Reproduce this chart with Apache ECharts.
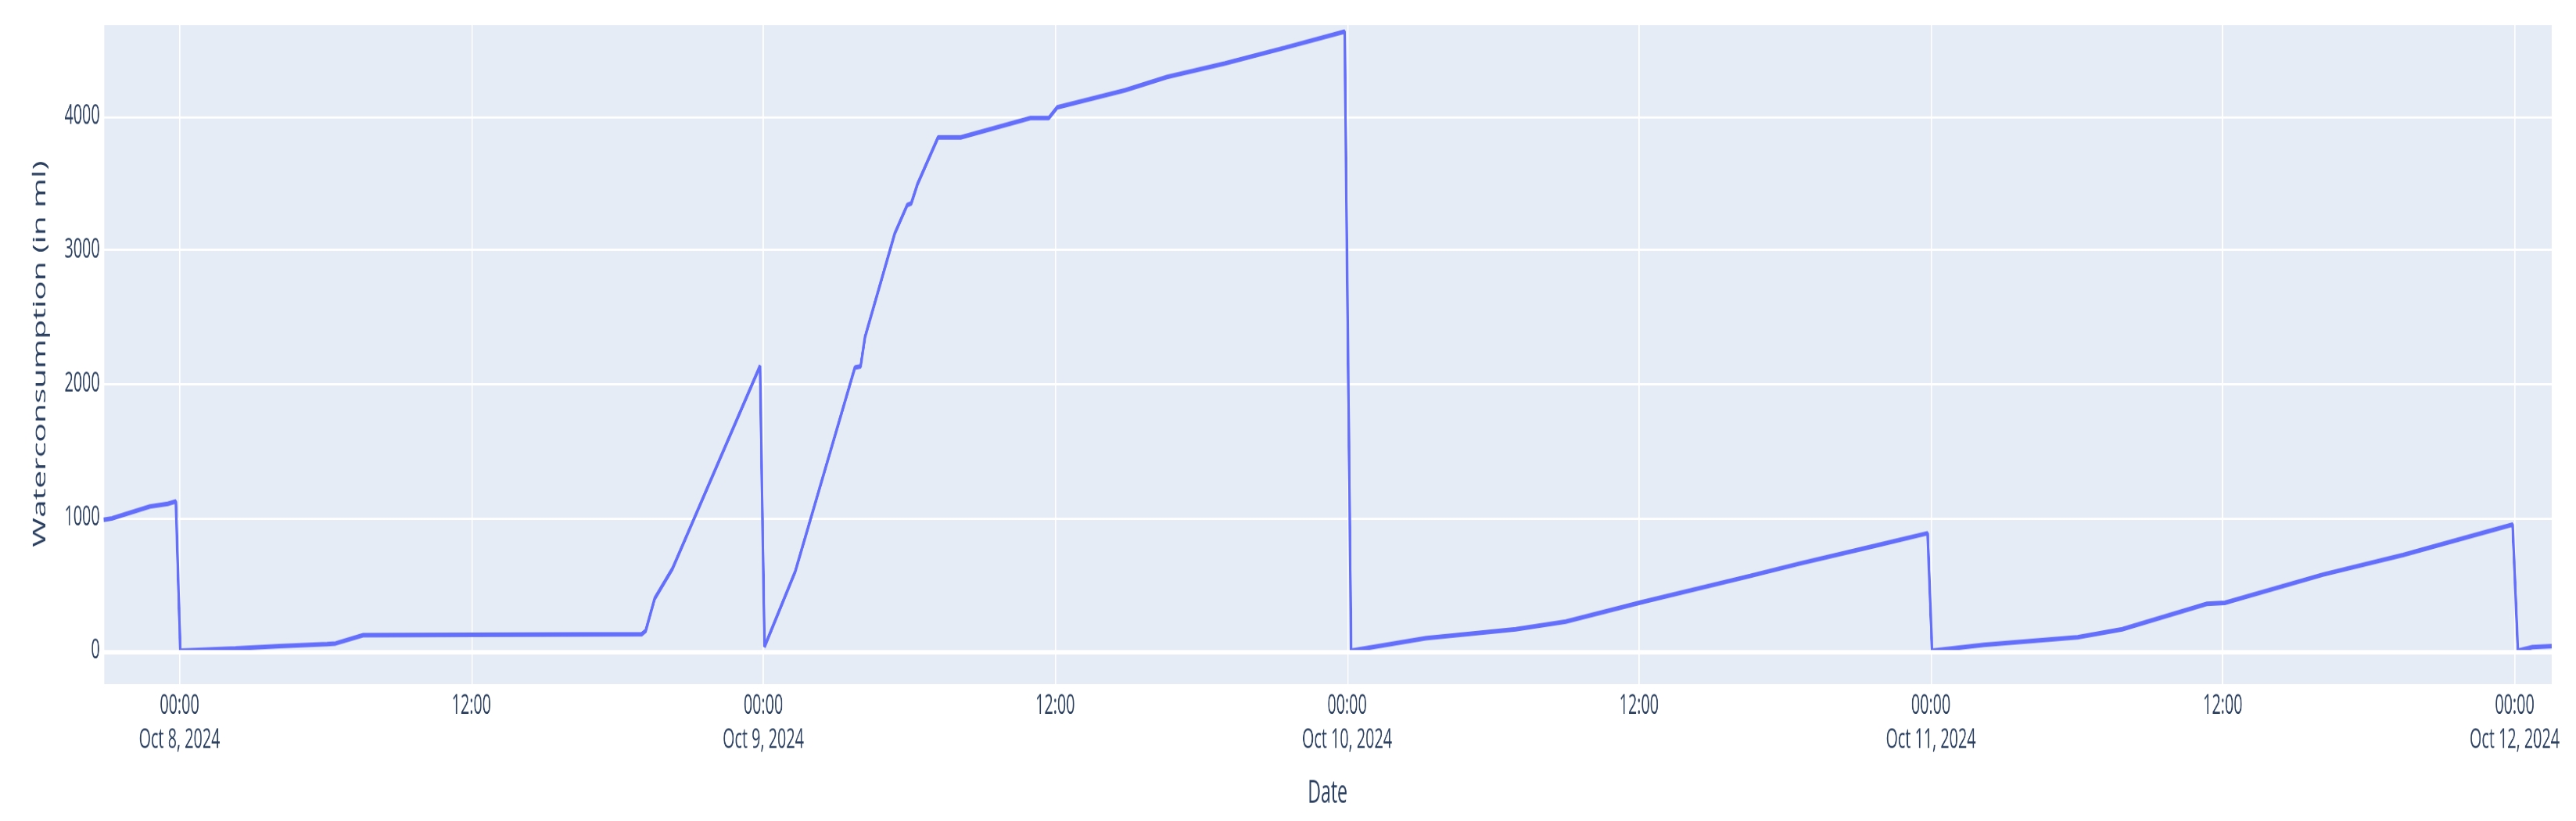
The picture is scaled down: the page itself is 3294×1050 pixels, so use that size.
<!DOCTYPE html>
<html>
<head>
<meta charset="utf-8">
<title>Waterconsumption</title>
<script src="https://cdn.jsdelivr.net/npm/echarts@6/dist/echarts.min.js"></script>
<style>
    html, body { margin: 0; padding: 0; background: #fff; overflow: hidden; }
    #wrap { width: 3294px; height: 1050px; overflow: hidden; }
    /* the reference is a plotly figure stretched to 3294x1050, so draw small and scale */
    #main { width: 2000px; height: 360px; transform-origin: 0 0; transform: scale(1.647, 2.9167); }
</style>
</head>
<body>
<div id="wrap"><div id="main"></div></div>
<script>
// readings, local time
var timeStamps = [
    '2024-10-07 20:53', '2024-10-07 21:13', '2024-10-07 22:47', '2024-10-07 23:31', '2024-10-07 23:51',
    '2024-10-08 00:02', '2024-10-08 02:18', '2024-10-08 04:06', '2024-10-08 06:04', '2024-10-08 06:25',
    '2024-10-08 07:33', '2024-10-08 19:00', '2024-10-08 19:10', '2024-10-08 19:32', '2024-10-08 20:16',
    '2024-10-08 23:52',
    '2024-10-09 00:03', '2024-10-09 01:19', '2024-10-09 03:46', '2024-10-09 04:00', '2024-10-09 04:11',
    '2024-10-09 05:24', '2024-10-09 05:55', '2024-10-09 06:05', '2024-10-09 06:20', '2024-10-09 07:11',
    '2024-10-09 08:07', '2024-10-09 09:55', '2024-10-09 10:59', '2024-10-09 11:44', '2024-10-09 12:05',
    '2024-10-09 14:52', '2024-10-09 16:36', '2024-10-09 18:58', '2024-10-09 21:26', '2024-10-09 23:54',
    '2024-10-10 00:10', '2024-10-10 03:14', '2024-10-10 06:56', '2024-10-10 08:59', '2024-10-10 12:04',
    '2024-10-10 16:34', '2024-10-10 18:38', '2024-10-10 21:42', '2024-10-10 23:52',
    '2024-10-11 00:03', '2024-10-11 02:11', '2024-10-11 06:02', '2024-10-11 07:52', '2024-10-11 11:21',
    '2024-10-11 12:05', '2024-10-11 16:07', '2024-10-11 19:25', '2024-10-11 23:55',
    '2024-10-12 00:08', '2024-10-12 00:44', '2024-10-12 01:31'
];
var waterMl = [
    980, 990, 1080, 1100, 1118,
    0, 17, 34, 50, 55,
    117, 124, 150, 390, 615,
    2132,
    30, 595, 2120, 2128, 2350,
    3121, 3336, 3349, 3490, 3842,
    3842, 3933, 3987, 3987, 4067,
    4195, 4295, 4396, 4513, 4635,
    0, 94, 161, 218, 362,
    560, 654, 785, 880,
    0, 44, 101, 161, 352,
    359, 570, 717, 945,
    0, 27, 34
];
var monthNames = ['Jan', 'Feb', 'Mar', 'Apr', 'May', 'Jun', 'Jul', 'Aug', 'Sep', 'Oct', 'Nov', 'Dec'];
var yTicks = [0, 1000, 2000, 3000, 4000];

var fontFamily = '"Open Sans", verdana, arial, sans-serif';
var textColor = '#2a3f5f';

function pad2(n) {
    return n < 10 ? '0' + n : '' + n;
}

function timeLabel(value) {
    var d = new Date(value);
    var hm = pad2(d.getHours()) + ':' + pad2(d.getMinutes());
    if (d.getHours() === 0 && d.getMinutes() === 0) {
        return hm + '\n' + monthNames[d.getMonth()] + ' ' + d.getDate() + ', ' + d.getFullYear();
    }
    return hm;
}

var points = [];
for (var i = 0; i < timeStamps.length; i++) {
    points.push([timeStamps[i], waterMl[i]]);
}

var myChart = echarts.init(document.getElementById('main'), null, { renderer: 'canvas', devicePixelRatio: 3 });
var option = {
    animation: false,
    backgroundColor: '#fff',
    textStyle: { fontFamily: fontFamily, color: textColor },
    grid: {
        left: 80.5, right: 19, top: 10.3, bottom: 59.3,
        show: true, backgroundColor: '#E5ECF6', borderWidth: 0
    },
    xAxis: {
        type: 'time',
        min: 'dataMin',
        max: 'dataMax',
        // a bit over 12h so the scale settles on 12 hour steps
        minInterval: 13 * 3600 * 1000,
        maxInterval: 13 * 3600 * 1000,
        name: 'Date',
        nameLocation: 'middle',
        nameGap: 41,
        nameTextStyle: { fontFamily: fontFamily, fontSize: 14, color: textColor },
        axisLine: { show: false },
        axisTick: { show: false },
        splitLine: { show: true, lineStyle: { color: '#fff', width: 1 } },
        axisLabel: {
            margin: 2,
            fontFamily: fontFamily,
            fontSize: 12,
            lineHeight: 15,
            color: textColor,
            verticalAlign: 'top',
            hideOverlap: false,
            formatter: timeLabel
        }
    },
    yAxis: {
        type: 'value',
        min: -250,
        max: 4695,
        splitNumber: 5,
        name: 'Waterconsumption (in ml)',
        nameLocation: 'middle',
        nameGap: 42,
        nameTextStyle: { fontFamily: fontFamily, fontSize: 14, color: textColor },
        axisLine: { show: false },
        axisTick: { show: false },
        splitLine: { show: true, lineStyle: { color: '#fff', width: 1 } },
        axisLabel: {
            margin: 3,
            fontFamily: fontFamily,
            fontSize: 12,
            color: textColor,
            showMinLabel: false,
            showMaxLabel: false,
            formatter: function (v) {
                return yTicks.indexOf(v) >= 0 ? String(v) : '';
            }
        }
    },
    series: [
        {
            // zero line, kept under the trace
            type: 'line',
            data: [],
            z: 1,
            silent: true,
            markLine: {
                silent: true,
                symbol: 'none',
                label: { show: false },
                lineStyle: { color: '#fff', width: 2, type: 'solid' },
                data: [{ yAxis: 0 }]
            }
        },
        {
            name: 'Waterconsumption',
            type: 'line',
            z: 3,
            data: points,
            showSymbol: false,
            symbol: 'none',
            lineStyle: { color: '#636efa', width: 2 },
            itemStyle: { color: '#636efa' }
        }
    ]
};
myChart.setOption(option);
</script>
</body>
</html>
